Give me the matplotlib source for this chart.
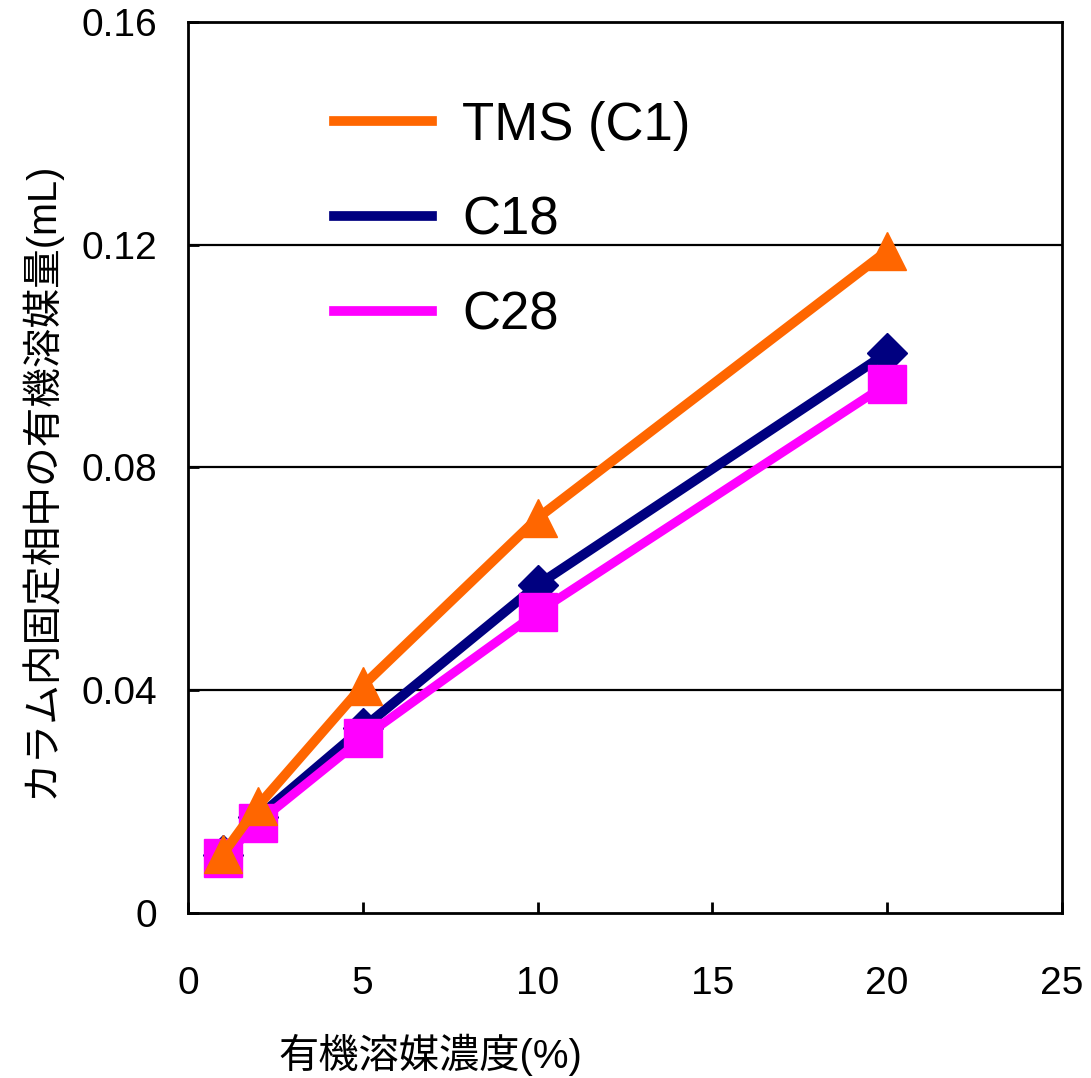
import matplotlib.pyplot as plt
from matplotlib.lines import Line2D

plt.rcParams['font.family'] = ['Liberation Sans', 'Noto Sans CJK JP', 'DejaVu Sans']

# DATA
conc = [1, 2, 5, 10, 20]
tms = [0.0106, 0.0192, 0.0408, 0.0709, 0.1189]
c18 = [0.0104, 0.0172, 0.0332, 0.0589, 0.1006]
c28 = [0.0099, 0.0162, 0.0314, 0.0540, 0.0950]
labels = ['TMS (C1)', 'C18', 'C28']
colors = ['#FF6600', '#000080', '#FF00FF']

fig = plt.figure(figsize=(10.91, 10.78), dpi=100)
ax = fig.add_axes([0.1723, 0.1531, 0.8011, 0.8265])

# grid lines behind data
for yv in [0.04, 0.08, 0.12]:
    ax.axhline(yv, color='black', lw=1.6, zorder=0)

# draw order: C18, C28, TMS on top
ax.plot(conc, c18, color=colors[1], lw=7, marker='D', ms=20, zorder=2)
ax.plot(conc, c28, color=colors[2], lw=6.5, marker='s', ms=28, zorder=3)
ax.plot(conc, tms, color=colors[0], lw=7, marker='^', ms=28, zorder=4)

ax.set_xlim(0, 25)
ax.set_ylim(0, 0.16)
ax.set_xticks([0, 5, 10, 15, 20, 25])
ax.set_yticks([0, 0.04, 0.08, 0.12, 0.16])
ax.set_yticklabels(['0', '0.04', '0.08', '0.12', '0.16'])
ax.tick_params(axis='x', direction='in', length=8, width=2, labelsize=28, pad=38)
ax.tick_params(axis='y', direction='in', length=8, width=2, labelsize=28, pad=22)
for s in ax.spines.values():
    s.set_linewidth(2)

ax.set_xlabel('有機溶媒濃度(%)', fontsize=29, va='center')
ax.xaxis.set_label_coords(0.277, -0.159)
ax.set_ylabel('カラム内固定相中の有機溶媒量(mL)', fontsize=28.5, va='center')
ax.yaxis.set_label_coords(-0.169, 0.486)

handles = [Line2D([0], [0], color=c, lw=7) for c in colors]
ax.legend(handles, labels, loc='upper left', bbox_to_anchor=(0.113, 0.965),
          frameon=False, fontsize=38, handlelength=1.86, handletextpad=0.57,
          labelspacing=0.85)

fig.savefig('out.png', dpi=100)
